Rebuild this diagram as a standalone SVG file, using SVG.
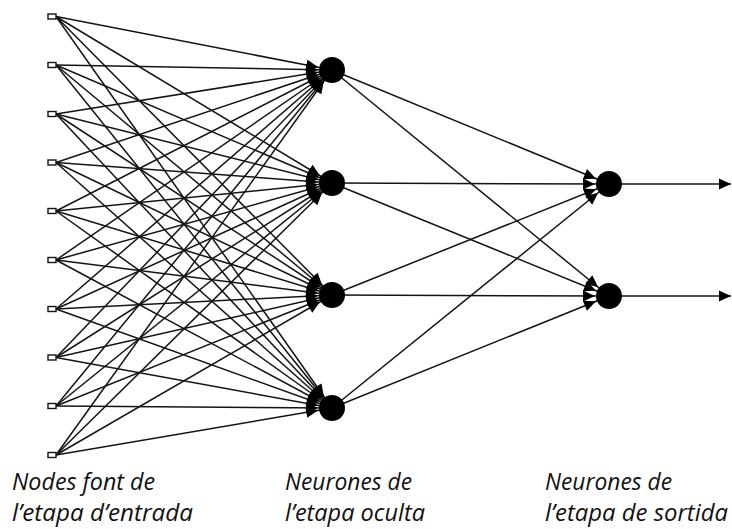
<svg xmlns="http://www.w3.org/2000/svg" width="732" height="529" viewBox="0 0 732 529">
<defs>
<style>
.c line{stroke:#141414;stroke-width:1.5;marker-end:url(#ah)}
.c line.o{marker-end:url(#ao)}
.in{fill:#fff;stroke:#141414;stroke-width:1.4}
.n{fill:#000}
text{font-family:"Open Sans","Liberation Sans",sans-serif;font-style:italic;font-size:23px;fill:#111}
</style>
<marker id="ah" markerUnits="userSpaceOnUse" markerWidth="30" markerHeight="12" refX="26" refY="5.5" orient="auto" overflow="visible"><path d="M0,0 L12,5.5 L0,11 z" fill="#000"/></marker>
<marker id="ao" markerUnits="userSpaceOnUse" markerWidth="12" markerHeight="12" refX="12" refY="5.5" orient="auto" overflow="visible"><path d="M0,0 L12,5.5 L0,11 z" fill="#000"/></marker>
</defs>
<g id="connectors" class="c">
<line x1="56" y1="16.5" x2="332" y2="70"/><line x1="56" y1="16.5" x2="332" y2="183"/><line x1="56" y1="16.5" x2="332" y2="295"/><line x1="56" y1="16.5" x2="332" y2="408"/>
<line x1="56" y1="65" x2="332" y2="70"/><line x1="56" y1="65" x2="332" y2="183"/><line x1="56" y1="65" x2="332" y2="295"/><line x1="56" y1="65" x2="332" y2="408"/>
<line x1="56" y1="114" x2="332" y2="70"/><line x1="56" y1="114" x2="332" y2="183"/><line x1="56" y1="114" x2="332" y2="295"/><line x1="56" y1="114" x2="332" y2="408"/>
<line x1="56" y1="162.5" x2="332" y2="70"/><line x1="56" y1="162.5" x2="332" y2="183"/><line x1="56" y1="162.5" x2="332" y2="295"/><line x1="56" y1="162.5" x2="332" y2="408"/>
<line x1="56" y1="211" x2="332" y2="70"/><line x1="56" y1="211" x2="332" y2="183"/><line x1="56" y1="211" x2="332" y2="295"/><line x1="56" y1="211" x2="332" y2="408"/>
<line x1="56" y1="260" x2="332" y2="70"/><line x1="56" y1="260" x2="332" y2="183"/><line x1="56" y1="260" x2="332" y2="295"/><line x1="56" y1="260" x2="332" y2="408"/>
<line x1="56" y1="309" x2="332" y2="70"/><line x1="56" y1="309" x2="332" y2="183"/><line x1="56" y1="309" x2="332" y2="295"/><line x1="56" y1="309" x2="332" y2="408"/>
<line x1="56" y1="357.5" x2="332" y2="70"/><line x1="56" y1="357.5" x2="332" y2="183"/><line x1="56" y1="357.5" x2="332" y2="295"/><line x1="56" y1="357.5" x2="332" y2="408"/>
<line x1="56" y1="406" x2="332" y2="70"/><line x1="56" y1="406" x2="332" y2="183"/><line x1="56" y1="406" x2="332" y2="295"/><line x1="56" y1="406" x2="332" y2="408"/>
<line x1="56" y1="455" x2="332" y2="70"/><line x1="56" y1="455" x2="332" y2="183"/><line x1="56" y1="455" x2="332" y2="295"/><line x1="56" y1="455" x2="332" y2="408"/>
<line x1="332" y1="70" x2="609" y2="184"/><line x1="332" y1="70" x2="609" y2="296"/>
<line x1="332" y1="183" x2="609" y2="184"/><line x1="332" y1="183" x2="609" y2="296"/>
<line x1="332" y1="295" x2="609" y2="184"/><line x1="332" y1="295" x2="609" y2="296"/>
<line x1="332" y1="408" x2="609" y2="184"/><line x1="332" y1="408" x2="609" y2="296"/>
<line class="o" x1="609" y1="184" x2="731" y2="184"/>
<line class="o" x1="609" y1="296" x2="731" y2="296"/>
</g>
<g id="input-nodes">
<g id="in1"><rect class="in" x="48" y="14" width="8" height="5"/></g>
<g id="in2"><rect class="in" x="48" y="62.5" width="8" height="5"/></g>
<g id="in3"><rect class="in" x="48" y="111.5" width="8" height="5"/></g>
<g id="in4"><rect class="in" x="48" y="160" width="8" height="5"/></g>
<g id="in5"><rect class="in" x="48" y="208.5" width="8" height="5"/></g>
<g id="in6"><rect class="in" x="48" y="257.5" width="8" height="5"/></g>
<g id="in7"><rect class="in" x="48" y="306.5" width="8" height="5"/></g>
<g id="in8"><rect class="in" x="48" y="355" width="8" height="5"/></g>
<g id="in9"><rect class="in" x="48" y="403.5" width="8" height="5"/></g>
<g id="in10"><rect class="in" x="48" y="452.5" width="8" height="5"/></g>
</g>
<g id="hidden-nodes">
<g id="h1"><circle class="n" cx="332" cy="70" r="13"/></g>
<g id="h2"><circle class="n" cx="332" cy="183" r="13"/></g>
<g id="h3"><circle class="n" cx="332" cy="295" r="13"/></g>
<g id="h4"><circle class="n" cx="332" cy="408" r="13"/></g>
</g>
<g id="output-nodes">
<g id="o1"><circle class="n" cx="609" cy="184" r="13"/></g>
<g id="o2"><circle class="n" cx="609" cy="296" r="13"/></g>
</g>
<g id="labels">
<text x="12" y="490" textLength="143" lengthAdjust="spacingAndGlyphs">Nodes font de</text>
<text x="12" y="521" textLength="181" lengthAdjust="spacingAndGlyphs">l’etapa d’entrada</text>
<text x="285" y="490" textLength="127" lengthAdjust="spacingAndGlyphs">Neurones de</text>
<text x="285" y="521" textLength="140" lengthAdjust="spacingAndGlyphs">l’etapa oculta</text>
<text x="545" y="490" textLength="127" lengthAdjust="spacingAndGlyphs">Neurones de</text>
<text x="545" y="521" textLength="183" lengthAdjust="spacingAndGlyphs">l’etapa de sortida</text>
</g>
</svg>
